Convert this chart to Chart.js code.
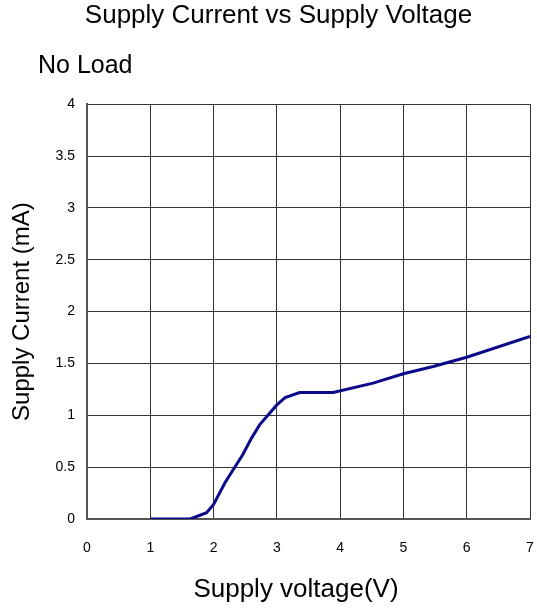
<!DOCTYPE html>
<html>
<head>
<meta charset="utf-8">
<script src="https://cdn.jsdelivr.net/npm/chart.js@4"></script>
<style>
  html, body { margin: 0; padding: 0; background: #fff; }
  #wrap { width: 537px; height: 613px; }
</style>
</head>
<body>
<div id="wrap"><canvas id="chart" width="537" height="613"></canvas></div>
<script>
// values
const voltage = [1, 1.63, 1.89, 2.0, 2.18, 2.46, 2.6, 2.73, 3.0, 3.13, 3.36, 3.89, 4.52, 5.0, 5.47, 6.0, 7.0];
const current = [0, 0, 0.06, 0.14, 0.35, 0.62, 0.78, 0.91, 1.1, 1.17, 1.22, 1.22, 1.31, 1.4, 1.47, 1.56, 1.76];

const noteLabel = 'No Load';
const xAxisLabel = 'Supply voltage(V)';

const font = 'Arial, "Liberation Sans", sans-serif';

// extra labels that sit off-centre in the reference
const extraText = {
  id: 'extraText',
  afterDraw(chart) {
    const ctx = chart.ctx;
    ctx.save();
    ctx.fillStyle = '#000';
    ctx.textBaseline = 'alphabetic';
    ctx.font = '25px ' + font;
    ctx.textAlign = 'left';
    ctx.fillText(noteLabel, 38, 73);
    ctx.font = '26px ' + font;
    ctx.textAlign = 'center';
    ctx.fillText(xAxisLabel, 296, 597);
    ctx.restore();
  }
};

new Chart(document.getElementById('chart'), {
  type: 'scatter',
  data: {
    datasets: [{
      data: voltage.map((v, i) => ({ x: v, y: current[i] })),
      showLine: true,
      borderColor: '#0a0a8a',
      borderWidth: 3,
      pointRadius: 0,
      tension: 0,
      fill: false
    }]
  },
  options: {
    responsive: false,
    animation: false,
    layout: { padding: { top: 0, right: 0, left: 20, bottom: 0 } },
    plugins: {
      legend: { display: false },
      tooltip: { enabled: false },
      title: {
        display: true,
        text: 'Supply Current vs Supply Voltage',
        color: '#000',
        font: { family: font, size: 26, weight: 'normal' },
        padding: { top: 0, bottom: 73 }
      }
    },
    scales: {
      x: {
        type: 'linear',
        min: 0, max: 7,
        afterFit(scale) { scale.height = 94; scale.paddingRight = 7; },
        ticks: { stepSize: 1, color: '#000', padding: 21, font: { family: font, size: 14 } },
        grid: { color: '#333', lineWidth: 1, tickLength: 0 },
        border: { color: '#555', width: 2 }
      },
      y: {
        min: 0, max: 4,
        afterFit(scale) { scale.width = 67; },
        ticks: {
          stepSize: 0.5, color: '#000', padding: 12, font: { family: font, size: 14 },
          callback: (v) => String(v)
        },
        grid: { color: '#333', lineWidth: 1, tickLength: 0 },
        border: { color: '#555', width: 2 },
        title: {
          display: true,
          text: 'Supply Current (mA)',
          color: '#000',
          font: { family: font, size: 24 },
          padding: { top: -12, bottom: 0 }
        }
      }
    }
  },
  plugins: [extraText]
});
</script>
</body>
</html>
